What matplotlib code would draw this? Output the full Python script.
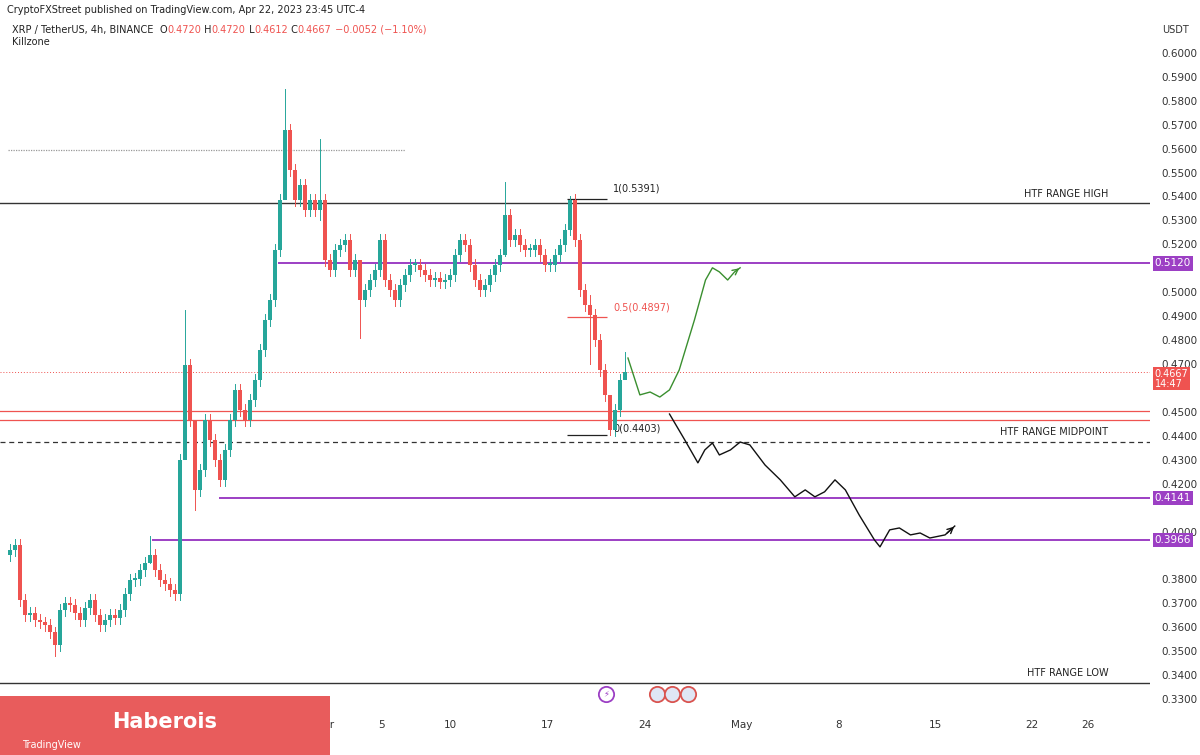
import numpy as np
import matplotlib
matplotlib.use("Agg")
import matplotlib.pyplot as plt
from matplotlib.patches import Rectangle

# XRP/USDT candles, closes (x axis in days since Mar 1)
closes = [0.3923, 0.3944, 0.3714, 0.3651, 0.3660, 0.3631, 0.3620, 0.3610, 0.3580, 0.3526,
          0.3672, 0.3700, 0.3693, 0.3660, 0.3631, 0.3680, 0.3714, 0.3650, 0.3610, 0.3630,
          0.3651, 0.3640, 0.3672, 0.3740, 0.3798, 0.3800, 0.3840, 0.3870, 0.3902, 0.3840,
          0.3798, 0.3780, 0.3756, 0.3740, 0.4300, 0.4696, 0.4466, 0.4174, 0.4257, 0.4466,
          0.4383, 0.4299, 0.4216, 0.4341, 0.4466, 0.4592, 0.4508, 0.4466, 0.4550, 0.4634,
          0.4759, 0.4884, 0.4968, 0.5177, 0.5386, 0.5678, 0.5511, 0.5386, 0.5448, 0.5344,
          0.5386, 0.5344, 0.5386, 0.5135, 0.5093, 0.5177, 0.5198, 0.5219, 0.5093, 0.5135,
          0.4968, 0.5010, 0.5051, 0.5093, 0.5219, 0.5051, 0.5010, 0.4968, 0.5031, 0.5072,
          0.5114, 0.5114, 0.5093, 0.5072, 0.5051, 0.5060, 0.5043, 0.5051, 0.5072, 0.5156,
          0.5219, 0.5198, 0.5114, 0.5051, 0.5010, 0.5031, 0.5072, 0.5114, 0.5156, 0.5323,
          0.5219, 0.5240, 0.5198, 0.5177, 0.5177, 0.5198, 0.5156, 0.5114, 0.5114, 0.5156,
          0.5198, 0.5260, 0.5386, 0.5219, 0.5010, 0.4947, 0.4905, 0.4801, 0.4675, 0.4571,
          0.4425, 0.4508, 0.4634, 0.4667]
first_open = 0.3900
start_day, end_day = 8.17, 52.58
# notable wicks: index -> (high, low)
wicks = {9: (0.3600, 0.3480), 28: (0.3980, 0.3870), 35: (0.4926, 0.4600), 37: (0.4300, 0.4090),
         55: (0.5850, 0.5500), 62: (0.5640, 0.5300), 70: (0.5050, 0.4810), 99: (0.5460, 0.5150),
         112: (0.5400, 0.5240), 116: (0.4990, 0.4700), 120: (0.4520, 0.4403), 123: (0.4750, 0.4640)}

green_days = [52.8, 53.66, 54.4, 55.1, 55.8, 56.5, 57.6, 58.4, 58.9, 59.4, 60.0, 60.5, 60.9]
green_px = [0.4725, 0.4571, 0.4583, 0.4562, 0.4592, 0.4675, 0.4884, 0.5051, 0.5102, 0.5085,
            0.5051, 0.5085, 0.5102]
black_days = [55.8, 56.9, 57.85, 58.35, 58.9, 59.4, 60.2, 60.9, 61.6, 62.7, 63.8, 64.85, 65.6,
              66.3, 67.0, 67.75, 68.5, 69.5, 70.6, 71.0, 71.7, 72.4, 73.2, 73.9, 74.6, 75.7, 76.4]
black_px = [0.4491, 0.4383, 0.4287, 0.4341, 0.4370, 0.4320, 0.4341, 0.4374, 0.4362, 0.4278,
            0.4216, 0.4145, 0.4174, 0.4145, 0.4166, 0.4216, 0.4174, 0.4069, 0.3965, 0.3936,
            0.4007, 0.4015, 0.3986, 0.3994, 0.3973, 0.3986, 0.4023]

tick_days = [12, 26, 31, 35, 40, 47, 54, 61, 68, 75, 82, 86]
tick_labels = ["13", "27", "Apr", "5", "10", "17", "24", "May", "8", "15", "22", "26"]
price_ticks = [0.33, 0.34, 0.35, 0.36, 0.37, 0.38, 0.40, 0.42, 0.43, 0.44, 0.45, 0.47,
               0.48, 0.49, 0.50, 0.52, 0.53, 0.54, 0.55, 0.56, 0.57, 0.58, 0.59, 0.60]
event_days = [51.2, 54.9, 56.0, 57.1]

UP, DN = "#26a69a", "#ef5350"
PURPLE = "#9c3fc4"

fig = plt.figure(figsize=(12, 7.55), dpi=100)
ax = fig.add_axes([0, 43 / 755, 1150 / 1200, 712 / 755])
ax.set_xlim(7.45, 90.5)
ax.set_ylim(0.3246, 0.6221)

days = np.linspace(start_day, end_day, len(closes))
w = (days[1] - days[0]) * 0.7
opens = [first_open] + closes[:-1]
for i, (d, o, c) in enumerate(zip(days, opens, closes)):
    col = UP if c >= o else DN
    hi, lo = wicks.get(i, (max(o, c) + 0.0025, min(o, c) - 0.0025))
    ax.plot([d, d], [lo, hi], color=col, lw=0.7, zorder=3)
    ax.add_patch(Rectangle((d - w / 2, min(o, c)), w, max(abs(c - o), 0.0006),
                           color=col, zorder=4, lw=0))

# levels
ax.hlines(0.5595, 8.0, 36.7, color="#999999", lw=0.9, ls=(0, (1, 1)))
ax.axhline(0.5371, color="#333333", lw=1.0)
ax.hlines(0.5120, 27.5, 90.5, color=PURPLE, lw=1.4)
ax.axhline(0.4667, color=DN, lw=0.7, ls=(0, (1, 2)))
ax.axhline(0.4504, color=DN, lw=0.9)
ax.axhline(0.4466, color=DN, lw=0.9)
ax.axhline(0.4374, color="#333333", lw=0.9, ls=(0, (4, 3)))
ax.hlines(0.4141, 23.3, 90.5, color=PURPLE, lw=1.4)
ax.hlines(0.3966, 18.4, 90.5, color=PURPLE, lw=1.4)
ax.axhline(0.3367, color="#333333", lw=1.0)
for t, y in [("HTF RANGE HIGH", 0.5371), ("HTF RANGE MIDPOINT", 0.4374), ("HTF RANGE LOW", 0.3367)]:
    ax.text(87.5, y + 0.002, t, ha="right", va="bottom", fontsize=7, color="#222222")

# fib
for y, lab, col in [(0.5391, "1(0.5391)", "#222222"), (0.4897, "0.5(0.4897)", DN), (0.4403, "0(0.4403)", "#222222")]:
    ax.hlines(y, 48.4, 51.3, color=col, lw=0.9)
    ax.text(51.75, y + (0.002 if y > 0.45 else 0.0007), lab, ha="left", va="bottom",
            fontsize=7, color=col)

ax.plot(green_days, green_px, color="#3a8f2f", lw=1.0)
ax.annotate("", xy=(green_days[-1] + 0.1, green_px[-1] + 0.0005), xytext=(green_days[-2], green_px[-2]),
            arrowprops=dict(arrowstyle="->", color="#3a8f2f", lw=1.0))
ax.plot(black_days, black_px, color="#111111", lw=1.0)
ax.annotate("", xy=(black_days[-1] + 0.1, black_px[-1] + 0.0005), xytext=(black_days[-2], black_px[-2]),
            arrowprops=dict(arrowstyle="->", color="#111111", lw=1.0))

# axes styling
for s in ax.spines.values():
    s.set_visible(False)
ax.yaxis.tick_right()
ax.set_yticks(price_ticks)
ax.set_yticklabels([f"{p:.4f}" for p in price_ticks])
ax.set_xticks(tick_days)
ax.set_xticklabels(tick_labels)
ax.tick_params(length=0, labelsize=7.5, colors="#333333", pad=6)
ax.tick_params(axis="y", pad=8)

for y, lab, col in [(0.5120, "0.5120", PURPLE), (0.4141, "0.4141", PURPLE), (0.3963, "0.3966", PURPLE)]:
    ax.text(1.004, y, lab, transform=ax.get_yaxis_transform(), ha="left", va="center",
            fontsize=7.5, color="white", bbox=dict(boxstyle="square,pad=0.2", fc=col, ec="none"))
ax.text(1.004, 0.4638, "0.4667\n14:47", transform=ax.get_yaxis_transform(), ha="left", va="center",
        fontsize=7, color="white", linespacing=1.0, bbox=dict(boxstyle="square,pad=0.15", fc=DN, ec="none"))

# event icons under the chart
ax.plot(event_days[:1], [0.3321], "o", ms=11, mfc="white", mec=PURPLE, mew=1.3, clip_on=False, zorder=6)
ax.text(event_days[0], 0.3321, "⚡", fontsize=6, color=PURPLE, ha="center", va="center", zorder=7)
ax.plot(event_days[1:], [0.3321] * 3, "o", ms=11, mfc="#dfe6f5", mec="#d9534f", mew=1.3,
        clip_on=False, zorder=6)

# header
fig.canvas.draw()
fig.text(7 / 1200, 1 - 10 / 755, "CryptoFXStreet published on TradingView.com, Apr 22, 2023 23:45 UTC-4",
         fontsize=7, va="center", color="#222222")
fig.text(1162 / 1200, 1 - 30 / 755, "USDT", fontsize=7, va="center", color="#333333")
t1 = fig.text(12 / 1200, 1 - 30 / 755, "XRP / TetherUS, 4h, BINANCE  ", fontsize=7, va="center", color="#222222")
fig.canvas.draw()
xs = 12 + t1.get_window_extent().width
for part, col in [("O", "#222"), ("0.4720", DN), (" H", "#222"), ("0.4720", DN), (" L", "#222"),
                  ("0.4612", DN), (" C", "#222"), ("0.4667", DN), (" −0.0052 (−1.10%)", DN)]:
    t = fig.text(xs / 1200, 1 - 30 / 755, part, fontsize=7, va="center", color=col)
    fig.canvas.draw()
    xs += t.get_window_extent().width
fig.text(12 / 1200, 1 - 42 / 755, "Killzone", fontsize=7, va="center", color="#222222")

# footer watermark
fig.patches.append(Rectangle((0, 0), 330 / 1200, 59 / 755, transform=fig.transFigure,
                             fc="#e85c5c", ec="none", zorder=5))
fig.text(165 / 1200, 33 / 755, "Haberois", fontsize=15, fontweight="bold", color="white",
         ha="center", va="center", zorder=6)
fig.text(22 / 1200, 10 / 755, "TradingView", fontsize=7, color="white", va="center", zorder=6)

fig.savefig("out.png", dpi=100)
